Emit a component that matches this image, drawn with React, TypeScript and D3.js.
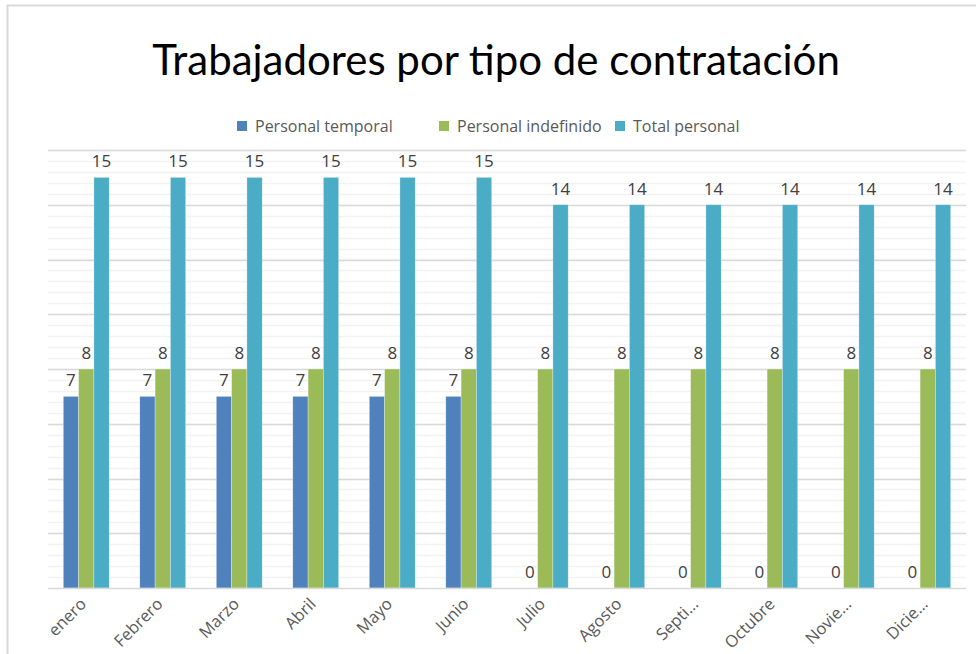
import React, { useRef, useEffect } from "react";
import * as d3 from "d3";

const months = ["enero", "Febrero", "Marzo", "Abril", "Mayo", "Junio", "Julio", "Agosto", "Septi…", "Octubre", "Novie…", "Dicie…"];
const seriesNames = ["Personal temporal", "Personal indefinido", "Total personal"];
const seriesColors = ["#4F81BD", "#9BBB59", "#4BACC6"];
const temporal = [7, 7, 7, 7, 7, 7, 0, 0, 0, 0, 0, 0];
const indefinido = [8, 8, 8, 8, 8, 8, 8, 8, 8, 8, 8, 8];
const total = [15, 15, 15, 15, 15, 15, 14, 14, 14, 14, 14, 14];
const yMax = 16;
const majorStep = 2;
const minorStep = 0.4;

const App = () => {
    const svgRef = useRef<SVGSVGElement>(null);

    useEffect(() => {
        if (!svgRef.current) return;
        const width = 976;
        const height = 654;
        const margin = { top: 150, right: 10, bottom: 66, left: 48 };
        const innerWidth = width - margin.left - margin.right;
        const innerHeight = height - margin.top - margin.bottom;
        const font = "'Open Sans', 'Noto Sans', sans-serif";
        const titleFont = "Lato, 'Liberation Sans', sans-serif";

        const svg = d3.select(svgRef.current);
        svg.selectAll("*").remove();

        svg.append("rect")
            .attr("width", width).attr("height", height).attr("fill", "#fff");

        // chart frame
        svg.append("rect")
            .attr("x", 7.5).attr("y", 5.5)
            .attr("width", width + 20).attr("height", height + 20)
            .attr("fill", "none").attr("stroke", "#d9d9d9").attr("stroke-width", 2);

        // title
        svg.append("text")
            .attr("x", 496).attr("y", 75)
            .attr("text-anchor", "middle")
            .style("font-family", titleFont)
            .style("font-size", "42px")
            .style("fill", "#000")
            .text("Trabajadores por tipo de contratación");

        // legend
        const legendX = [237, 439, 615];
        seriesNames.forEach((name, i) => {
            svg.append("rect")
                .attr("x", legendX[i]).attr("y", 121)
                .attr("width", 10).attr("height", 10)
                .attr("fill", seriesColors[i]);
            svg.append("text")
                .attr("x", legendX[i] + 18).attr("y", 132)
                .style("font-family", font)
                .style("font-size", "16px")
                .style("fill", "#595959")
                .text(name);
        });

        const chart = svg.append("g")
            .attr("transform", `translate(${margin.left},${margin.top})`);

        const x0 = d3.scaleBand().domain(months).range([0, innerWidth]).paddingInner(0.4).paddingOuter(0.2);
        const x1 = d3.scaleBand().domain(seriesNames).range([0, x0.bandwidth()]);
        const y = d3.scaleLinear().domain([0, yMax]).range([innerHeight, 0]);

        // gridlines
        const minor = d3.range(minorStep, yMax + 0.001, minorStep);
        chart.selectAll(".minor").data(minor).enter().append("line")
            .attr("x1", 0).attr("x2", innerWidth)
            .attr("y1", (d) => Math.round(y(d)) + 0.5).attr("y2", (d) => Math.round(y(d)) + 0.5)
            .attr("stroke", "#f2f2f2").attr("stroke-width", 1.5);
        const major = d3.range(majorStep, yMax + 0.001, majorStep);
        chart.selectAll(".major").data(major).enter().append("line")
            .attr("x1", 0).attr("x2", innerWidth)
            .attr("y1", (d) => Math.round(y(d)) + 0.5).attr("y2", (d) => Math.round(y(d)) + 0.5)
            .attr("stroke", "#d9d9d9").attr("stroke-width", 1.5);

        const seriesValues = [temporal, indefinido, total];
        const rows = months.map((m, i) => seriesNames.map((s, j) => ({ month: m, series: s, value: seriesValues[j][i], color: seriesColors[j] })));

        const groups = chart.selectAll(".grp").data(rows).enter().append("g")
            .attr("transform", (d) => `translate(${x0(d[0].month)},0)`);

        groups.selectAll("rect").data((d) => d).enter().append("rect")
            .attr("x", (d) => x1(d.series)!)
            .attr("y", (d) => y(d.value))
            .attr("width", x1.bandwidth())
            .attr("height", (d) => innerHeight - y(d.value))
            .attr("fill", (d) => d.color)
            .attr("stroke", "#ffffff").attr("stroke-opacity", 0.5).attr("stroke-width", 0.6);

        groups.selectAll("text").data((d) => d).enter().append("text")
            .attr("x", (d) => x1(d.series)! + x1.bandwidth() / 2)
            .attr("y", (d) => y(d.value) - 10)
            .attr("text-anchor", "middle")
            .style("font-family", font)
            .style("font-size", "17px")
            .style("fill", "#404040")
            .text((d) => d.value);

        // baseline
        chart.append("line")
            .attr("x1", 0).attr("x2", innerWidth)
            .attr("y1", innerHeight + 0.5).attr("y2", innerHeight + 0.5)
            .attr("stroke", "#d9d9d9").attr("stroke-width", 1.5);

        // category labels
        chart.selectAll(".cat").data(months).enter().append("text")
            .attr("transform", (d) => `translate(${x0(d)! + x0.bandwidth() / 2 - 3},${innerHeight + 13}) rotate(-45)`)
            .attr("text-anchor", "end")
            .attr("dy", "0.35em")
            .style("font-family", font)
            .style("font-size", "16.5px")
            .style("fill", "#595959")
            .text((d) => d);
    }, []);

    return (
        <svg ref={svgRef} width={976} height={654}
            style={{ position: "absolute", left: 0, top: 0, display: "block" }} />
    );
};

export default App;
